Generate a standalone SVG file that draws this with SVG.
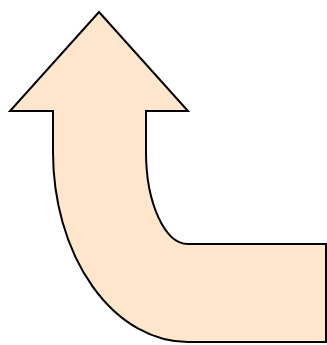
<svg xmlns="http://www.w3.org/2000/svg" width="327" height="345" viewBox="0 0 327 345">
<style>.s{fill:#ffe6cc;stroke:#000;stroke-width:2;stroke-linejoin:miter}</style>
<g id="bent-arrow">
<path class="s" d="M99 12 L188 111 L146 111 L146 152 A42 92 0 0 0 188 244 L326 244 L326 342 L188 342 A135 190 0 0 1 53 152 L53 111 L10 111 Z"/>
</g>
</svg>
